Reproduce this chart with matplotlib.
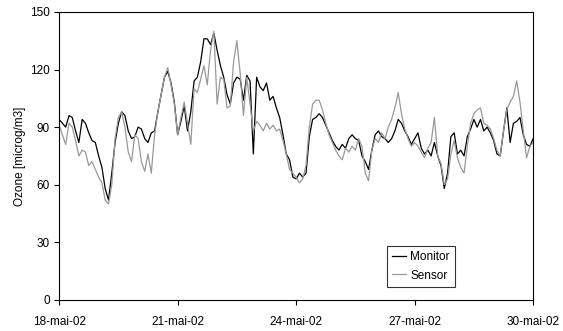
import numpy as np
import pandas as pd
import matplotlib
matplotlib.use("Agg")
import matplotlib.pyplot as plt
import matplotlib.dates as mdates

plt.rcParams['font.family'] = ['Liberation Sans', 'DejaVu Sans']

# 2-hourly ozone readings, 18-mai-02 00:00 to 30-mai-02 00:00
times = pd.date_range("2002-05-18", "2002-05-30", freq="2h")

monitor = [
    94, 92, 90, 96, 95, 88, 82, 94, 92, 87, 83, 82,
    75, 69, 58, 52, 66, 82, 92, 98, 96, 88, 84, 85,
    90, 89, 84, 82, 87, 88, 98, 107, 116, 119, 113, 103,
    86, 93, 101, 88, 98, 114, 116, 124, 136, 136, 133, 139,
    130, 122, 116, 107, 102, 113, 116, 115, 104, 117, 114, 76,
    116, 111, 109, 113, 104, 106, 100, 95, 86, 76, 73, 64,
    63, 66, 64, 66, 85, 94, 95, 97, 95, 91, 87, 83,
    80, 78, 81, 79, 84, 86, 84, 83, 75, 72, 68, 78,
    86, 88, 85, 84, 82, 84, 88, 94, 92, 88, 85, 81,
    84, 87, 79, 76, 78, 75, 82, 75, 70, 58, 66, 85,
    87, 76, 78, 75, 85, 89, 94, 90, 94, 88, 90, 87,
    83, 76, 75, 88, 100, 82, 92, 93, 95, 86, 81, 80,
    84,
]

sensor = [
    91, 86, 81, 92, 90, 83, 75, 78, 77, 70, 72, 68,
    64, 61, 52, 50, 60, 84, 95, 98, 90, 77, 72, 86,
    84, 72, 67, 76, 66, 86, 98, 107, 116, 121, 112, 102,
    86, 95, 103, 92, 81, 110, 108, 115, 122, 112, 130, 140,
    102, 116, 115, 100, 101, 124, 135, 118, 96, 116, 102, 88,
    93, 91, 88, 92, 89, 91, 88, 89, 83, 76, 68, 66,
    64, 61, 63, 70, 90, 102, 104, 104, 99, 92, 86, 82,
    78, 75, 73, 79, 77, 80, 78, 84, 80, 66, 62, 78,
    84, 82, 87, 84, 90, 94, 100, 108, 97, 89, 84, 80,
    82, 80, 77, 74, 79, 82, 95, 75, 71, 60, 63, 76,
    83, 74, 69, 66, 80, 92, 97, 99, 100, 92, 91, 89,
    84, 78, 75, 88, 99, 103, 106, 114, 103, 88, 74, 80,
    82,
]

y_ticks = [0, 30, 60, 90, 120, 150]

fig = plt.figure(figsize=(5.63, 3.31), dpi=100)
ax = fig.add_axes([0.105, 0.094, 0.842, 0.870])

ax.plot(times, monitor, color="black", linewidth=0.9, label="Monitor")
ax.plot(times, sensor, color="#999999", linewidth=0.9, label="Sensor")

ax.set_xlim(times[0], times[-1])
ax.set_ylim(0, 150)
ax.set_yticks(y_ticks)
ax.xaxis.set_major_locator(mdates.DayLocator(bymonthday=[18, 21, 24, 27, 30]))
ax.xaxis.set_major_formatter(mdates.DateFormatter("%d-mai-%y"))

ax.tick_params(axis="both", direction="out", length=3.5, width=0.8,
               labelsize=8.5, colors="black", pad=3)
ax.tick_params(axis="x", pad=8)
for side in ax.spines.values():
    side.set_linewidth(0.8)
    side.set_color("black")

ax.set_ylabel("Ozone [microg/m3]", fontsize=8.5, labelpad=3)

leg = ax.legend(loc="lower right", bbox_to_anchor=(0.835, 0.045),
                fontsize=8.5, frameon=True, fancybox=False,
                handlelength=1.2, handletextpad=0.35, borderpad=0.45,
                labelspacing=0.55, borderaxespad=0)
leg.get_frame().set_edgecolor("black")
leg.get_frame().set_linewidth(0.8)

fig.savefig("out.png", dpi=100)
